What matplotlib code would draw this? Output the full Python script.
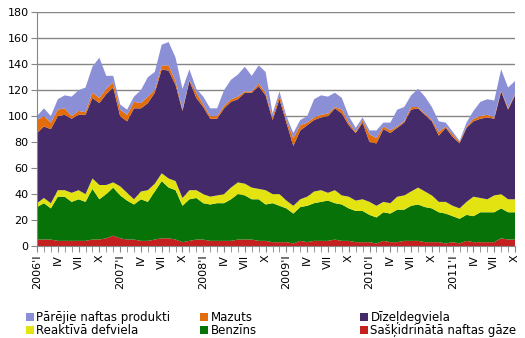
import numpy as np
import matplotlib
matplotlib.use("Agg")
import matplotlib.pyplot as plt
from matplotlib.patches import Patch

# monthly values, 2006 I .. 2011 X
lpg = [5, 5, 5, 4, 4, 4, 4, 4, 5, 5, 6, 8, 6, 5,
       5, 4, 4, 5, 6, 6, 5, 3, 4, 5, 5, 4, 4, 4,
       4, 5, 5, 5, 4, 4, 3, 3, 3, 2, 4, 3, 4, 4,
       4, 5, 4, 4, 3, 3, 3, 2, 4, 3, 3, 4, 4,
       4, 3, 3, 3, 2, 3, 2, 4, 3, 3, 3, 3, 6, 5, 5]
benzins = [25, 28, 24, 34, 34, 30, 32, 30, 39, 31, 34, 37, 33, 30,
           27, 32, 30, 37, 44, 39, 38, 28, 32, 32, 28, 28, 29, 29,
           32, 35, 34, 31, 32, 28, 30, 28, 26, 23, 26, 28, 29, 30,
           31, 28, 28, 25, 24, 24, 21, 20, 22, 22, 25, 24, 27,
           28, 27, 26, 23, 23, 20, 19, 20, 20, 23, 23, 23, 23, 21, 21]
reaktiva = [3, 4, 4, 5, 5, 7, 7, 6, 8, 11, 7, 4, 7, 6,
            4, 6, 9, 6, 6, 7, 7, 6, 7, 6, 7, 6, 6, 7,
            9, 9, 9, 9, 8, 11, 7, 9, 6, 6, 6, 7, 9, 9,
            6, 10, 7, 9, 8, 9, 10, 9, 8, 8, 10, 11, 11,
            13, 12, 10, 8, 9, 8, 8, 10, 15, 11, 10, 13, 11, 10, 10]
dizel = [54, 55, 57, 57, 58, 57, 58, 61, 62, 63, 70, 73, 54, 55,
         70, 64, 67, 70, 80, 83, 74, 67, 84, 71, 67, 60, 59, 66,
         66, 64, 70, 73, 79, 73, 57, 73, 60, 46, 53, 55, 55, 56,
         59, 63, 63, 55, 52, 59, 46, 48, 56, 54, 53, 56, 63,
         61, 59, 57, 51, 57, 53, 50, 57, 58, 61, 63, 59, 79, 69, 80]
mazuts = [10, 8, 5, 5, 5, 2, 3, 2, 4, 4, 4, 4, 5, 5,
          5, 4, 5, 2, 3, 4, 3, 1, 1, 4, 2, 2, 2, 2,
          2, 2, 1, 1, 2, 2, 2, 3, 2, 6, 4, 2, 2, 2,
          2, 1, 3, 2, 1, 2, 6, 4, 2, 2, 1, 1, 2,
          1, 1, 1, 3, 1, 2, 1, 1, 2, 2, 2, 1, 1, 1, 1]
parejie = [3, 6, 5, 8, 10, 15, 16, 19, 20, 31, 10, 5, 4, 4,
           4, 10, 15, 14, 16, 18, 18, 16, 8, 3, 6, 6, 6, 12,
           15, 17, 19, 12, 14, 16, 3, 3, 3, 4, 4, 5, 14, 15,
           13, 11, 9, 5, 3, 2, 3, 6, 3, 6, 13, 11, 9,
           14, 13, 10, 8, 3, 2, 1, 3, 6, 11, 12, 13, 16, 16, 10]

years = [2006, 2007, 2008, 2009, 2010, 2011]
quarter_names = ["I", "IV", "VII", "X"]

names = ["Sašķidrinātā naftas gāze", "Benzīns", "Reaktīvā defviela",
         "Dīzeļdegviela", "Mazuts", "Pārējie naftas produkti"]
colors = ["#C3201F", "#077207", "#E3E311", "#442A68", "#E36C0C", "#8A8FD6"]

months = np.arange(len(lpg))
labels = []
for i in months:
    if i % 3 == 0:
        q = quarter_names[(i % 12) // 3]
        if i % 12 == 0:
            labels.append("%d'%s" % (years[i // 12], q))
        else:
            labels.append(q)

fig = plt.figure(figsize=(5.25, 3.38), dpi=100)
ax = fig.add_axes([0.0705, 0.272, 0.9105, 0.692])

ax.stackplot(months, lpg, benzins, reaktiva, dizel, mazuts, parejie,
             colors=colors, linewidth=0, zorder=2)

ax.set_xlim(0, len(lpg) - 1)
ax.set_ylim(0, 180)
ax.set_yticks(np.arange(0, 181, 20))
ax.yaxis.grid(True, color="#868686", linewidth=1, zorder=0)
ax.set_axisbelow(True)

ax.set_xticks(months, minor=True)
ax.set_xticks(months[::3])
ax.set_xticklabels(labels, rotation=90, fontsize=8)
ax.tick_params(axis="x", which="both", length=4, color="#868686", pad=2)
ax.tick_params(axis="y", length=4, color="#868686", labelsize=8, pad=2)

for s in ["top", "right"]:
    ax.spines[s].set_visible(False)
for s in ["left", "bottom"]:
    ax.spines[s].set_color("#868686")

# legend in three columns, placed like the original
handles = [Patch(facecolor=c, edgecolor="none") for c in colors]
cols = [(5, 2, 0.038), (4, 1, 0.37), (3, 0, 0.674)]
for top_i, bot_i, xpos in cols:
    fig.legend([handles[top_i], handles[bot_i]], [names[top_i], names[bot_i]],
               loc="upper left", bbox_to_anchor=(xpos, 0.098), frameon=False,
               fontsize=8.5, handlelength=0.7, handleheight=0.7,
               handletextpad=0.2, labelspacing=0.0, borderpad=0)

fig.savefig("out.png", dpi=100)
